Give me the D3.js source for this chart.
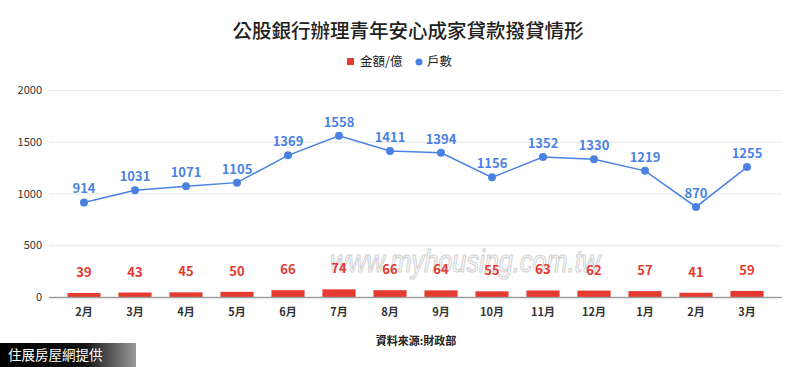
<!DOCTYPE html>
<html>
<head>
<meta charset="utf-8">
<script src="https://cdn.jsdelivr.net/npm/d3@7/dist/d3.min.js"></script>
<style>
  body { margin: 0; background: #fff; }
  svg text { font-family: "Noto Sans CJK TC", "Noto Sans", sans-serif; }
</style>
</head>
<body>
<div id="chart"></div>
<script>
// months, amounts (億) and households
const months = ["2月", "3月", "4月", "5月", "6月", "7月", "8月", "9月", "10月", "11月", "12月", "1月", "2月", "3月"];
const amounts = [39, 43, 45, 50, 66, 74, 66, 64, 55, 63, 62, 57, 41, 59];
const households = [914, 1031, 1071, 1105, 1369, 1558, 1411, 1394, 1156, 1352, 1330, 1219, 870, 1255];
const yTicks = [0, 500, 1000, 1500, 2000];

const width = 800, height = 367;
const plotL = 58.5, plotR = 772.5, plotT = 90, plotB = 297;
const red = "#e53a30", blue = "#4a82e4";

const svg = d3.select("#chart").append("svg")
  .attr("width", width)
  .attr("height", height);

const idx = months.map((m, i) => i);
const x = d3.scaleBand().domain(idx).range([plotL, plotR]).paddingInner(0.35).paddingOuter(0.175);
const y = d3.scaleLinear().domain([0, 2000]).range([plotB, plotT]);
const cx = i => x(i) + x.bandwidth() / 2;

// title
svg.append("text")
  .attr("x", 408).attr("y", 38)
  .attr("text-anchor", "middle")
  .style("font-size", "19.5px")
  .style("font-weight", 500)
  .attr("fill", "#222")
  .text("公股銀行辦理青年安心成家貸款撥貸情形");

// legend
const lg = svg.append("g").attr("transform", "translate(347,62)");
lg.append("rect").attr("x", 0).attr("y", -4).attr("width", 7).attr("height", 7).attr("fill", red);
lg.append("text").attr("x", 13).attr("y", 4).style("font-size", "12.5px").attr("fill", "#222").text("金額/億");
lg.append("circle").attr("cx", 72).attr("cy", 0).attr("r", 3.5).attr("fill", blue);
lg.append("text").attr("x", 80).attr("y", 4).style("font-size", "12.5px").attr("fill", "#222").text("戶數");

// grid + y labels
const yAxis = svg.append("g")
  .attr("transform", `translate(49,0)`)
  .call(d3.axisLeft(y).tickValues(yTicks).tickSize(-733).tickFormat(d3.format("d")));
yAxis.select(".domain").remove();
yAxis.selectAll(".tick line").attr("stroke", "#e6e6e6");
yAxis.selectAll(".tick text")
  .attr("x", -7)
  .attr("fill", "#333")
  .style("font-size", "11px");

// watermark
svg.append("text")
  .attr("x", 330).attr("y", 272)
  .attr("textLength", 270)
  .attr("lengthAdjust", "spacingAndGlyphs")
  .style("font-family", "Liberation Sans, sans-serif")
  .style("font-size", "31px")
  .style("font-style", "italic")
  .attr("fill", "none")
  .attr("stroke", "#c8c8c8")
  .attr("stroke-width", 1.2)
  .attr("opacity", 0.8)
  .text("www.myhousing.com.tw");

// bars
svg.append("g").selectAll("rect")
  .data(amounts)
  .join("rect")
  .attr("x", (d, i) => x(i))
  .attr("y", d => y(d))
  .attr("width", x.bandwidth())
  .attr("height", d => plotB - y(d))
  .attr("fill", red);

// bar labels
svg.append("g").selectAll("text")
  .data(amounts)
  .join("text")
  .attr("x", (d, i) => cx(i))
  .attr("y", d => y(d) - 16)
  .attr("text-anchor", "middle")
  .style("font-size", "13px")
  .style("font-weight", "bold")
  .attr("fill", red)
  .text(d => d);

// baseline
svg.append("line")
  .attr("x1", 49).attr("x2", 782)
  .attr("y1", plotB + 0.5).attr("y2", plotB + 0.5)
  .attr("stroke", "#9e9e9e").attr("stroke-width", 1.5);

// line
const line = d3.line().x((d, i) => cx(i)).y(d => y(d));
svg.append("path")
  .datum(households)
  .attr("d", line)
  .attr("fill", "none")
  .attr("stroke", blue)
  .attr("stroke-width", 1.5);

svg.append("g").selectAll("circle")
  .data(households)
  .join("circle")
  .attr("cx", (d, i) => cx(i))
  .attr("cy", d => y(d))
  .attr("r", 4)
  .attr("fill", blue);

svg.append("g").selectAll("text")
  .data(households)
  .join("text")
  .attr("x", (d, i) => cx(i))
  .attr("y", d => y(d) - 9)
  .attr("text-anchor", "middle")
  .style("font-size", "13px")
  .style("font-weight", "bold")
  .attr("fill", blue)
  .text(d => d);

// x labels
svg.append("g").selectAll("text")
  .data(months)
  .join("text")
  .attr("x", (d, i) => cx(i))
  .attr("y", 316)
  .attr("text-anchor", "middle")
  .style("font-size", "11px")
  .style("font-weight", "bold")
  .attr("fill", "#333")
  .text(d => d);

// source
svg.append("text")
  .attr("x", 416).attr("y", 345)
  .attr("text-anchor", "middle")
  .style("font-size", "11px")
  .style("font-weight", "bold")
  .attr("fill", "#222")
  .text("資料來源:財政部");

// credit box
const grad = svg.append("defs").append("linearGradient").attr("id", "cg");
grad.append("stop").attr("offset", "0%").attr("stop-color", "#000");
grad.append("stop").attr("offset", "62%").attr("stop-color", "#111");
grad.append("stop").attr("offset", "100%").attr("stop-color", "#999");
svg.append("rect")
  .attr("x", 0).attr("y", 343).attr("width", 136).attr("height", 24)
  .attr("fill", "url(#cg)");
svg.append("text")
  .attr("x", 8).attr("y", 360)
  .style("font-size", "13.5px")
  .attr("fill", "#fff")
  .text("住展房屋網提供");
</script>
</body>
</html>
